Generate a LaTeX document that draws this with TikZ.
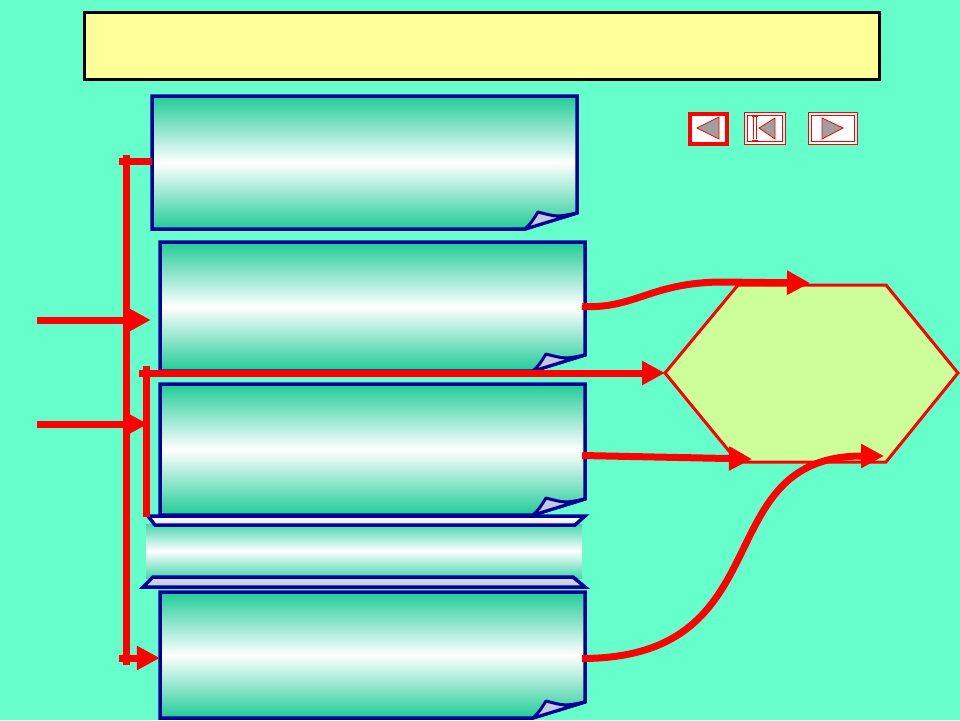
\documentclass[tikz,border=0pt]{standalone}
\usetikzlibrary{arrows.meta,fit}
\definecolor{bgc}{RGB}{102,255,204}
\definecolor{tealc}{RGB}{32,204,150}
\definecolor{titlec}{RGB}{255,255,153}
\definecolor{hexc}{RGB}{204,255,153}
\definecolor{bluec}{RGB}{0,0,153}
\definecolor{curlc}{RGB}{196,202,220}
\definecolor{scrollc}{RGB}{70,214,172}
\newcommand{\mkfoldbox}[5]{%
  \coordinate (#1nw) at (#2,#3);
  \coordinate (#1se) at (#4,#5);
  \node[fit=(#1nw)(#1se),inner sep=0pt] (#1) {};
  \shadedraw[boxfill] (#2,#3) -- (#4,#3) -- (#4,#5-16) -- (#4-52,#5) -- (#2,#5) -- cycle;
  \filldraw[curl] (#4-52,#5) .. controls (#4-46,#5-6) .. (#4-39,#5-17)
     .. controls (#4-20,#5-12) .. (#4,#5-16) -- cycle;
}
\begin{document}
\begin{tikzpicture}[x=1pt,y=-1pt,
  boxfill/.style={top color=tealc,bottom color=tealc,middle color=white,draw=bluec,line width=3.5pt,line join=miter},
  curl/.style={fill=curlc,draw=bluec,line width=3pt,line join=round},
  band/.style={draw=bluec,line width=3.5pt,line join=miter},
  redline/.style={draw=red,line width=7pt},
  tipend/.style={-{Triangle[length=23pt,width=23pt]}},
  navbtn/.style={draw=red,fill=white,inner sep=0pt},
  navtri/.style={fill=gray!75,draw=red,line width=0.8pt,line join=miter}]
\fill[bgc] (0,0) rectangle (960,720);
\useasboundingbox (0,0) rectangle (960,720);

% title bar
\node[draw=black,line width=3pt,fill=titlec,minimum width=795pt,minimum height=67pt,
      inner sep=0pt,anchor=north west] (title) at (83,11) {};

% navigation buttons
\node[navbtn,line width=4pt,minimum width=37pt,minimum height=30pt] (nav1) at (708.5,129) {};
\filldraw[navtri] (697,128) -- (719,117) -- (719,139) -- cycle;
\node[navbtn,line width=1pt,double=white,double distance=2pt,minimum width=38pt,minimum height=29pt] (nav2) at (764.5,128) {};
\draw[red,line width=0.8pt,double=white,double distance=1.5pt] (755,117) -- (755,139);
\draw[red,line width=0.8pt] (752,116) -- (758,116) (752,140) -- (758,140);
\filldraw[navtri] (759,128) -- (775,118) -- (775,139) -- cycle;
\node[navbtn,line width=1pt,double=white,double distance=2pt,minimum width=46pt,minimum height=29pt] (nav3) at (832.5,128) {};
\filldraw[navtri] (822,118) -- (843,128) -- (822,139) -- cycle;

% boxes
\mkfoldbox{b1}{152}{96}{577}{229}
\mkfoldbox{b2}{160}{242}{585}{371}
\mkfoldbox{b3}{160}{384}{585}{515}

% scroll
\coordinate (b4nw) at (143,516);
\coordinate (b4se) at (585,588);
\node[fit=(b4nw)(b4se),inner sep=0pt] (b4) {};
\shade[top color=scrollc,bottom color=scrollc,middle color=white] (146,524) rectangle (582,578);
\shadedraw[band,top color=white,bottom color=curlc!40] (148,516) -- (585,516) -- (575,525) -- (155,525) -- cycle;
\shadedraw[band,top color=curlc!70,bottom color=curlc] (153,577) -- (573,577) -- (585,587) -- (143,587) -- cycle;

\mkfoldbox{b5}{160}{592}{585}{718}

% hexagon
\coordinate (hl) at (665,373);
\coordinate (htl) at (738,285);
\coordinate (htr) at (886,285);
\coordinate (hr) at (958,373);
\coordinate (hbr) at (886,462);
\coordinate (hbl) at (738,462);
\node[fit=(hl)(htl)(hr)(hbr),inner sep=0pt] (hex) {};
\filldraw[fill=hexc,draw=red,line width=3pt,line join=miter]
  (hl) -- (htl) -- (htr) -- (hr) -- (hbr) -- (hbl) -- cycle;

% red connectors
\coordinate (ltop) at (126,155);
\coordinate (lbot) at (126,665);
\coordinate (ltick) at (119,161);
\coordinate (lb) at (119,658);
\draw[redline] (ltop) -- (lbot);
\draw[redline] (ltick) -- (ltick -| b1.west);
\draw[redline,tipend] (lb) -- (lb -| b5.west);

\coordinate (in1) at (37,320);
\coordinate (in2) at (37,424);
\draw[redline,tipend,shorten >=9pt] (in1) -- (in1 -| b2.west);
\draw[redline,tipend,shorten >=12pt] (in2) -- (in2 -| b3.west);

\coordinate (mtop) at (146,366);
\coordinate (mbot) at (146,517);
\coordinate (mtick) at (139,373);
\draw[redline] (mtop) -- (mbot);
\draw[redline,tipend] (mtick) -- (hl);

\coordinate (t1) at (810,283);
\coordinate (t2) at (752,459);
\coordinate (t3) at (884,456);
\draw[redline,tipend] ([xshift=-3pt]b2.east) .. controls (635,309) and (650,283) .. (720,282) -- (t1);
\draw[redline,tipend] ([xshift=-3pt,yshift=-6pt]b3.east) -- (t2);
\draw[redline,tipend] ([xshift=-3pt,yshift=-3.5pt]b5.east) .. controls (785,658) and (705,456) .. (t3);
\end{tikzpicture}
\end{document}
